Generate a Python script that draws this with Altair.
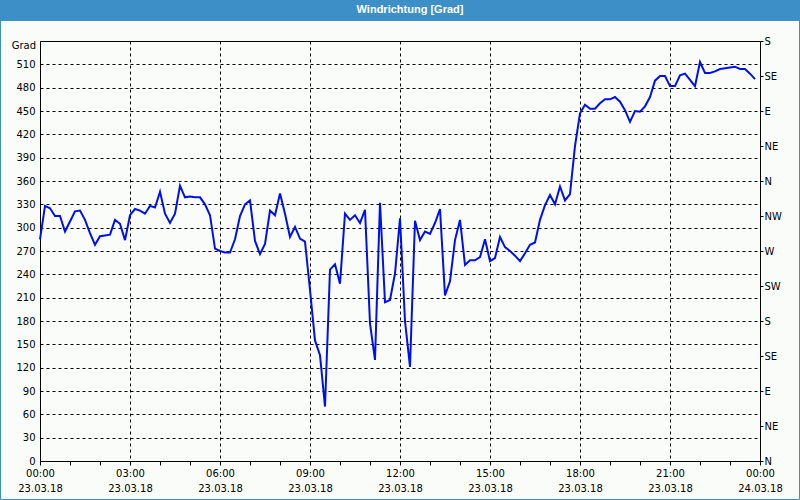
import altair as alt
import pandas as pd

# Wind direction [deg], 10-minute values from 23.03.18 00:00 to 23:50
wind_dir = [
    285, 328, 325, 315, 315, 295, 308, 321, 322, 310,
    293, 278, 289, 290, 291, 310, 305, 284, 316, 324,
    322, 318, 328, 326, 346, 318, 306, 318, 354, 339,
    340, 339, 339, 330, 316, 273, 270, 268, 268, 285,
    315, 330, 335, 283, 266, 279, 322, 316, 344, 318,
    288, 301, 286, 282, 220, 155, 136, 70, 246, 253,
    228, 318, 310, 316, 306, 323, 177, 130, 332, 204,
    207, 241, 312, 180, 121, 309, 284, 295, 292, 306,
    324, 213, 231, 284, 310, 252, 258, 258, 262, 285,
    257, 261, 288, 275, 270, 264, 257, 267, 278, 281,
    310, 329, 342, 330, 353, 335, 343, 405, 447, 458,
    453, 453, 460, 465, 465, 468, 462, 451, 436, 450,
    449, 456, 468, 489, 495, 495, 482, 482, 496, 498,
    490, 482, 513, 499, 499, 501, 504, 505, 506, 507,
    504, 504, 498, 491,
]
hours = [i / 6 for i in range(len(wind_dir))]
compass = ["N", "NE", "E", "SE", "S", "SW", "W", "NW", "N", "NE", "E", "SE", "S"]
chart_title = "Windrichtung [Grad]"
y_unit = "Grad"

df = pd.DataFrame({"h": hours, "deg": wind_dir})
one = pd.DataFrame({"a": [0]})

FONT = "DejaVu Sans"
BLUE_BAR = "#3c8fc7"

x_enc = alt.X(
    "h:Q",
    scale=alt.Scale(domain=[0, 24], nice=False, zero=False),
    axis=alt.Axis(
        values=list(range(25)),
        labelExpr="datum.value % 3 == 0 ? [((datum.value % 24) < 10 ? '0' : '') + (datum.value % 24) + ':00', datum.value == 24 ? '24.03.18' : '23.03.18'] : ''",
        title=None,
        grid=True,
        gridDash=[3, 3],
        gridColor="black",
        gridOpacity={"condition": {"test": "datum.value % 3 == 0 && datum.value > 0 && datum.value < 24", "value": 1}, "value": 0},
        tickColor="black",
        tickSize=4,
        domainColor="black",
        labelColor="black",
        labelFont=FONT,
        labelFontSize=10,
        labelPadding=3,
        labelLineHeight=15,
        labelOverlap=False,
        labelFlush=False,
    ),
)

line = alt.Chart(df).mark_line(color="#0010e8", strokeWidth=2).encode(
    x=x_enc,
    y=alt.Y(
        "deg:Q",
        scale=alt.Scale(domain=[0, 540], nice=False),
        axis=alt.Axis(
            values=list(range(0, 541, 30)),
            labelExpr="datum.value == 540 ? '' : datum.label",
            title=None,
            ticks=False,
            grid=True,
            gridDash=[3, 3],
            gridColor="black",
            gridOpacity={"condition": {"test": "datum.value > 0 && datum.value < 540", "value": 1}, "value": 0},
            domainColor="black",
            labelColor="black",
            labelFont=FONT,
            labelFontSize=10,
            labelPadding=5,
        ),
    ),
)

right_axis = alt.Chart(df).mark_point(opacity=0).encode(
    y=alt.Y(
        "deg:Q",
        scale=alt.Scale(domain=[0, 540], nice=False),
        axis=alt.Axis(
            orient="right",
            values=list(range(0, 541, 45)),
            labelExpr="['N','NE','E','SE','S','SW','W','NW','N','NE','E','SE','S'][round(datum.value / 45)]",
            title=None,
            grid=False,
            domain=False,
            tickSize=3,
            tickColor="black",
            labelColor="black",
            labelFont=FONT,
            labelFontSize=10,
            labelPadding=1,
        ),
    )
)

title_bar = alt.Chart(one).mark_rect(color=BLUE_BAR).encode(
    x=alt.value(-40), x2=alt.value(760), y=alt.value(-41), y2=alt.value(-20)
)
title_text = alt.Chart(one).mark_text(
    text=chart_title, font="Liberation Sans", fontSize=11, fontWeight="bold",
    color="white", align="center", baseline="middle",
).encode(x=alt.value(370), y=alt.value(-31))
border = alt.Chart(one).mark_rect(fillOpacity=0, stroke=BLUE_BAR, strokeWidth=1).encode(
    x=alt.value(-39.5), x2=alt.value(759.5), y=alt.value(-40.5), y2=alt.value(458.5)
)
unit_text = alt.Chart(one).mark_text(
    text=y_unit, font=FONT, fontSize=10, color="black", align="right", baseline="middle"
).encode(x=alt.value(-4), y=alt.value(5))

chart = (
    alt.layer(line, right_axis, title_bar, title_text, border, unit_text)
    .resolve_scale(y="independent")
    .properties(
        width=720,
        height=420,
        autosize="none",
        padding={"left": 40, "top": 41, "right": 40, "bottom": 39},
        background="#fafcfa",
    )
    .configure_view(stroke="black", strokeWidth=1)
)

chart.save("out.html", embed_options={"renderer": "svg", "actions": False})
